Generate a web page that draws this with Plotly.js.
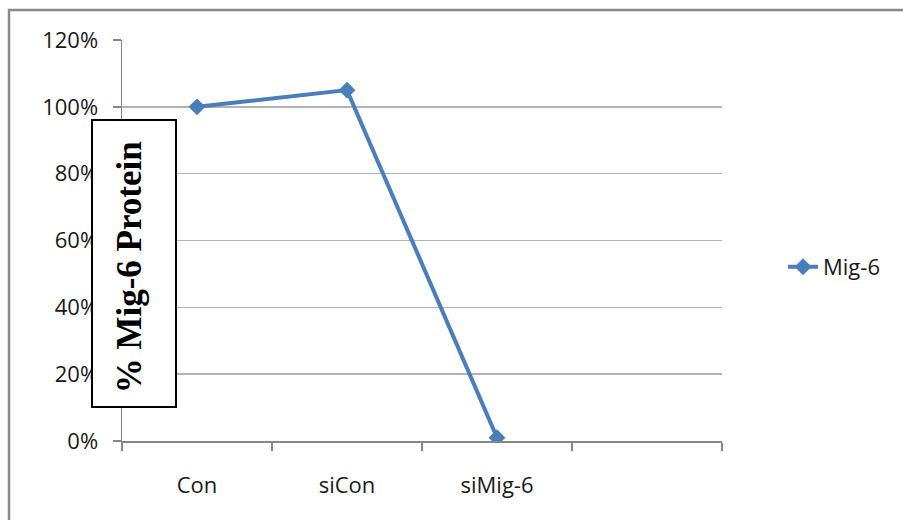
<!DOCTYPE html>
<html>
<head>
<meta charset="utf-8">
<script src="https://cdn.plot.ly/plotly-3.0.1.min.js"></script>
<style>html,body{margin:0;padding:0;background:#fff}</style>
</head>
<body>
<div id="chart" style="width:903px;height:520px"></div>
<script>
const categories = ['Con', 'siCon', 'siMig-6', ' '];
const mig6Values = [100, 105, 1, null];
const seriesName = 'Mig-6';
const yTickValues = [0, 20, 40, 60, 80, 100, 120];
const yAxisTitle = '% Mig-6 Protein';

const lineColor = '#4A7EBB';
const gridColor = '#B3B3B3';
const axisColor = '#868686';
const tickFont = {family: 'Open Sans, Liberation Sans, sans-serif', size: 22, color: '#1a1a1a'};

const trace = {
  x: categories,
  y: mig6Values,
  name: seriesName,
  type: 'scatter',
  mode: 'lines+markers',
  line: {color: lineColor, width: 4},
  marker: {symbol: 'diamond', size: 13, color: lineColor},
  connectgaps: false,
  showlegend: true
};

const layout = {
  width: 903, height: 520,
  margin: {l: 122, r: 181, t: 40, b: 79},
  paper_bgcolor: '#fff', plot_bgcolor: '#fff',
  showlegend: true,
  xaxis: {
    type: 'category',
    categoryorder: 'array', categoryarray: categories,
    range: [-0.5, 3.5],
    showgrid: false, zeroline: false,
    showline: true, linecolor: axisColor, linewidth: 1.5,
    ticks: 'outside', tickson: 'boundaries', ticklen: 8, tickcolor: axisColor, tickwidth: 1.5,
    ticklabelstandoff: 24,
    tickfont: tickFont,
    fixedrange: true
  },
  yaxis: {
    range: [0, 120],
    tickmode: 'array', tickvals: yTickValues,
    ticktext: yTickValues.map(v => v + '%'),
    showgrid: true, gridcolor: gridColor, gridwidth: 1.5,
    zeroline: false,
    showline: true, linecolor: axisColor, linewidth: 1.5,
    ticks: 'outside', ticklen: 8, tickcolor: axisColor, tickwidth: 1.5,
    ticklabelstandoff: 10,
    tickfont: tickFont,
    fixedrange: true
  },
  legend: {
    x: 1.1017, xanchor: 'left', y: 0.434, yanchor: 'middle',
    font: tickFont, bgcolor: 'rgba(0,0,0,0)', itemwidth: 30
  },
  shapes: [
    {type: 'rect', xref: 'paper', yref: 'paper',
     x0: -0.1883, x1: 1.35, y0: -0.25, y1: 1.0748,
     line: {color: '#8A8A8A', width: 2.5}, fillcolor: 'rgba(0,0,0,0)', layer: 'below'},
    {type: 'rect', xref: 'paper', yref: 'paper',
     x0: -0.05, x1: 0.09, y0: 0.0848, y1: 0.8005,
     line: {color: '#000', width: 2}, fillcolor: '#fff', layer: 'above'}
  ],
  annotations: [
    {text: '<b>' + yAxisTitle + '</b>', xref: 'paper', yref: 'paper',
     x: 0.014, y: 0.434, xanchor: 'center', yanchor: 'middle',
     textangle: -90, showarrow: false,
     font: {family: 'Liberation Serif, Times New Roman, serif', size: 35, color: '#000'}}
  ]
};

Plotly.newPlot('chart', [trace], layout, {displayModeBar: false, staticPlot: true});
</script>
</body>
</html>
